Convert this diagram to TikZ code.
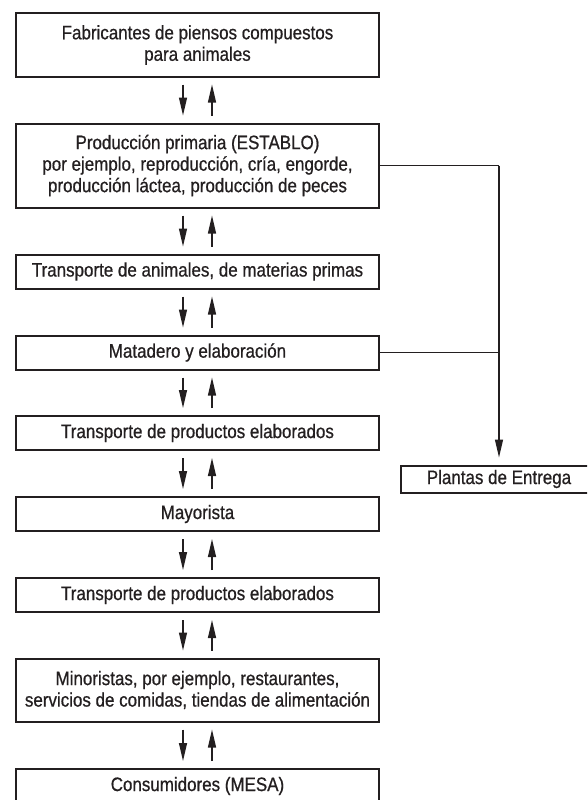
\documentclass[tikz,border=0pt]{standalone}
\usepackage{fontspec}
\setmainfont{Liberation Sans}[FakeStretch=0.87, FakeBold=0.7]
\usetikzlibrary{arrows.meta}
\definecolor{ink}{HTML}{231F20}
\tikzset{
  box/.style={draw=ink, line width=2pt, text=ink, align=center, inner sep=0pt,
    font=\fontsize{19.5}{21.5}\selectfont, minimum width=363pt},
  flow/.style={draw=ink, line width=1.3pt, -{Triangle[length=18pt,width=8pt]}},
  branch/.style={draw=ink, line width=1.2pt}
}
\begin{document}
\begin{tikzpicture}[x=1pt,y=-1pt]
\path[use as bounding box] (0,0) rectangle (587,800);
\clip (0,0) rectangle (587,800);
\node[box, minimum height=63pt] (b1) at (197.5,45) {Fabricantes de piensos compuestos\\para animales};
\node[box, minimum height=84pt] (b2) at (197.5,165.5) {Producción primaria (ESTABLO)\\por ejemplo, reproducción, cría, engorde,\\producción láctea, producción de peces};
\node[box, minimum height=34pt] (b3) at (197.5,271.5) {Transporte de animales, de materias primas};
\node[box, minimum height=34pt] (b4) at (197.5,352.5) {Matadero y elaboración};
\node[box, minimum height=34pt] (b5) at (197.5,433) {Transporte de productos elaborados};
\node[box, minimum height=34pt] (b6) at (197.5,514) {Mayorista};
\node[box, minimum height=34pt] (b7) at (197.5,595) {Transporte de productos elaborados};
\node[box, minimum height=63pt] (b8) at (197.5,690) {Minoristas, por ejemplo, restaurantes,\\servicios de comidas, tiendas de alimentación};
\node[box, minimum height=34pt] (b9) at (197.5,786) {Consumidores (MESA)};
\node[box, minimum width=197pt, minimum height=27pt] (pl) at (499,479) {Plantas de Entrega};
\foreach \a/\b in {b1/b2,b2/b3,b3/b4,b4/b5,b5/b6,b6/b7,b7/b8,b8/b9}{
  \draw[flow] ([xshift=-14.5pt,yshift=-7pt]\a.south) -- ([xshift=-14.5pt,yshift=7pt]\b.north);
  \draw[flow] ([xshift=14.5pt,yshift=7pt]\b.north) -- ([xshift=14.5pt,yshift=-7pt]\a.south);
}
\coordinate (c2) at (b2.east -| pl.north);
\coordinate (c4) at (b4.east -| pl.north);
\draw[branch] (b2.east) -- (c2);
\draw[branch] (b4.east) -- (c4);
\draw[flow] (c2) -- ([yshift=7pt]pl.north);
\end{tikzpicture}
\end{document}
